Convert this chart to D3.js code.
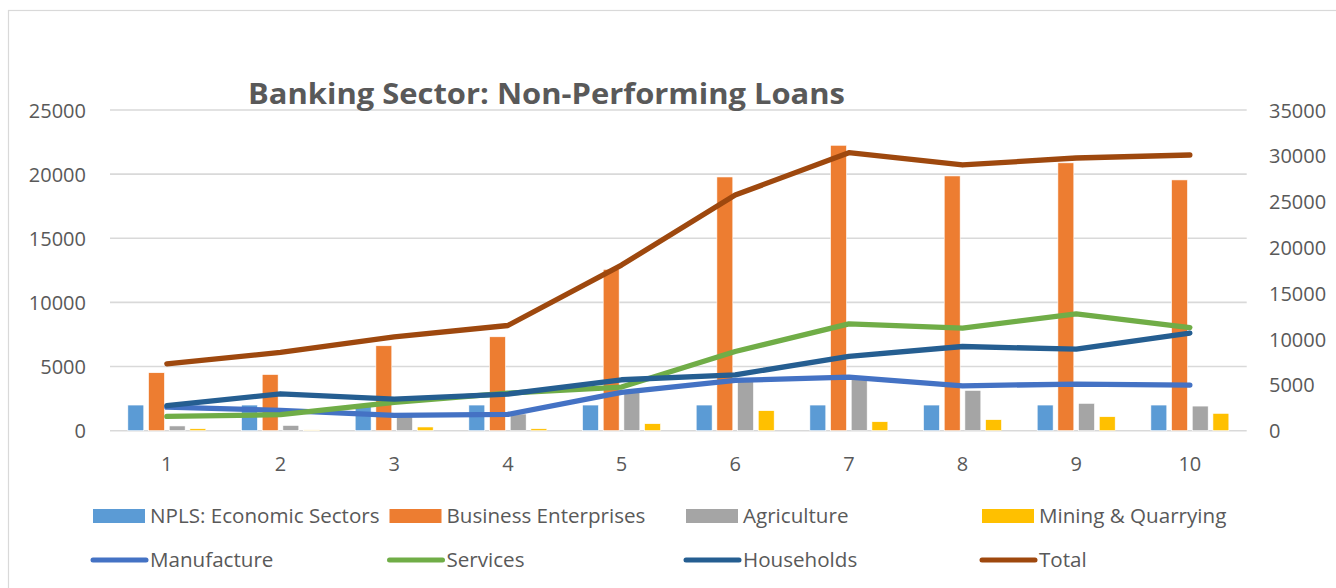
<!DOCTYPE html>
<html>
<head>
<meta charset="utf-8">
<script src="https://cdn.jsdelivr.net/npm/d3@7"></script>
<style>
  html, body { margin: 0; padding: 0; background: #fff; }
  svg { display: block; }
  text { font-family: "Open Sans", "Noto Sans", sans-serif; fill: #595959; }
</style>
</head>
<body>
<svg id="chart" width="1336" height="588"></svg>
<script>
// Periods on the x axis
const categories = ["1", "2", "3", "4", "5", "6", "7", "8", "9", "10"];

// Column series (left axis)
const nplsEconomic = [2000, 2000, 2000, 2000, 2000, 2000, 2000, 2000, 2000, 2000];
const business     = [4520, 4380, 6620, 7320, 12580, 19780, 22250, 19860, 20880, 19550];
const agriculture  = [370, 410, 1100, 1300, 3000, 4000, 4100, 3140, 2130, 1920];
const mining       = [150, 60, 290, 150, 545, 1560, 700, 860, 1090, 1350];

// Line series (right axis)
const manufacture  = [2580, 2210, 1670, 1780, 4180, 5490, 5850, 4900, 5090, 4980];
const services     = [1560, 1745, 3085, 4110, 4760, 8640, 11660, 11190, 12750, 11260];
const households   = [2725, 4030, 3450, 4000, 5560, 6100, 8100, 9190, 8900, 10650];
const total        = [7300, 8540, 10250, 11480, 18080, 25720, 30340, 29000, 29760, 30090];

// Axis ticks
const leftTicks  = [0, 5000, 10000, 15000, 20000, 25000];
const rightTicks = [0, 5000, 10000, 15000, 20000, 25000, 30000, 35000];

const barSeries = [
  { name: "NPLS: Economic Sectors", values: nplsEconomic, color: "#5B9BD5" },
  { name: "Business Enterprises",   values: business,     color: "#ED7D31" },
  { name: "Agriculture",            values: agriculture,  color: "#A5A5A5" },
  { name: "Mining & Quarrying",     values: mining,       color: "#FFC000" }
];
const lineSeries = [
  { name: "Manufacture", values: manufacture, color: "#4472C4" },
  { name: "Services",    values: services,    color: "#70AD47" },
  { name: "Households",  values: households,  color: "#255E91" },
  { name: "Total",       values: total,       color: "#9E480E" }
];

const svg = d3.select("#chart");

// Chart frame
svg.append("rect")
  .attr("x", 8.5).attr("y", 10.5)
  .attr("width", 1340).attr("height", 600)
  .attr("fill", "#fff").attr("stroke", "#D9D9D9").attr("stroke-width", 1.2);

const plot = { left: 110, right: 1246.7, top: 110, bottom: 430.7 };

const x0 = d3.scaleBand()
  .domain(categories)
  .range([plot.left, plot.right])
  .paddingInner(0.314)
  .paddingOuter(0.157);

const x1 = d3.scaleBand()
  .domain(barSeries.map(s => s.name))
  .range([0, x0.bandwidth()])
  .paddingInner(0.23);

const yLeft = d3.scaleLinear().domain([0, 25000]).range([plot.bottom, plot.top]);
const yRight = d3.scaleLinear().domain([0, 35000]).range([plot.bottom, plot.top]);

// Gridlines
svg.append("g")
  .selectAll("line")
  .data(leftTicks)
  .join("line")
  .attr("x1", plot.left).attr("x2", plot.right)
  .attr("y1", d => yLeft(d)).attr("y2", d => yLeft(d))
  .attr("stroke", "#D9D9D9").attr("stroke-width", 1.6);

// Left axis
const leftAxis = svg.append("g")
  .attr("transform", `translate(${86},0)`)
  .call(d3.axisLeft(yLeft).tickValues(leftTicks).tickSize(0).tickPadding(0).tickFormat(d3.format("d")));
leftAxis.select(".domain").remove();
leftAxis.selectAll("text")
  .attr("font-size", 20).attr("fill", "#595959").attr("dy", "0.35em")
  .style("font-family", '"Open Sans", sans-serif');

// Right axis
const rightAxis = svg.append("g")
  .attr("transform", `translate(${1269},0)`)
  .call(d3.axisRight(yRight).tickValues(rightTicks).tickSize(0).tickPadding(0).tickFormat(d3.format("d")));
rightAxis.select(".domain").remove();
rightAxis.selectAll("text")
  .attr("font-size", 20).attr("fill", "#595959").attr("dy", "0.35em")
  .style("font-family", '"Open Sans", sans-serif');

// Bottom axis labels
const bottomAxis = svg.append("g")
  .attr("transform", `translate(0,${plot.bottom})`)
  .call(d3.axisBottom(x0).tickSize(0).tickPadding(0));
bottomAxis.select(".domain").remove();
bottomAxis.selectAll("text")
  .attr("font-size", 20).attr("fill", "#595959").attr("y", 33).attr("dy", "0.35em")
  .style("font-family", '"Open Sans", sans-serif');

// Columns
const groups = svg.append("g")
  .selectAll("g")
  .data(categories)
  .join("g")
  .attr("transform", d => `translate(${x0(d)},0)`);

groups.selectAll("rect")
  .data((d, i) => barSeries.map(s => ({ name: s.name, color: s.color, value: s.values[i] })))
  .join("rect")
  .attr("x", d => x1(d.name))
  .attr("width", x1.bandwidth())
  .attr("y", d => yLeft(d.value))
  .attr("height", d => plot.bottom - yLeft(d.value))
  .attr("fill", d => d.color)
  .attr("stroke", "#fff").attr("stroke-width", 0.6);

// Lines
const line = d3.line()
  .x((d, i) => x0(categories[i]) + x0.bandwidth() / 2)
  .y(d => yRight(d));

svg.append("g")
  .selectAll("path")
  .data(lineSeries)
  .join("path")
  .attr("d", s => line(s.values))
  .attr("fill", "none")
  .attr("stroke", s => s.color)
  .attr("stroke-width", 5.3)
  .attr("stroke-linecap", "round")
  .attr("stroke-linejoin", "round");

// Title
svg.append("text")
  .attr("x", 248).attr("y", 104)
  .attr("font-size", 29).attr("font-weight", "bold")
  .attr("textLength", 597).attr("lengthAdjust", "spacingAndGlyphs")
  .attr("fill", "#595959")
  .text("Banking Sector: Non-Performing Loans");

// Legend
const legendCols = [93, 389.5, 686, 982];
const legendBar = svg.append("g")
  .selectAll("g")
  .data(barSeries)
  .join("g")
  .attr("transform", (d, i) => `translate(${legendCols[i]},516)`);
legendBar.append("rect")
  .attr("x", 0).attr("y", -7).attr("width", 52).attr("height", 14)
  .attr("fill", d => d.color);
legendBar.append("text")
  .attr("x", 57).attr("y", 0).attr("dy", "0.35em")
  .attr("font-size", 20.6)
  .text(d => d.name);

const legendLine = svg.append("g")
  .selectAll("g")
  .data(lineSeries)
  .join("g")
  .attr("transform", (d, i) => `translate(${legendCols[i]},560)`);
legendLine.append("line")
  .attr("x1", 0).attr("x2", 53).attr("y1", 0).attr("y2", 0)
  .attr("stroke", d => d.color).attr("stroke-width", 5).attr("stroke-linecap", "round");
legendLine.append("text")
  .attr("x", 57).attr("y", 0).attr("dy", "0.35em")
  .attr("font-size", 20.6)
  .text(d => d.name);
</script>
</body>
</html>
